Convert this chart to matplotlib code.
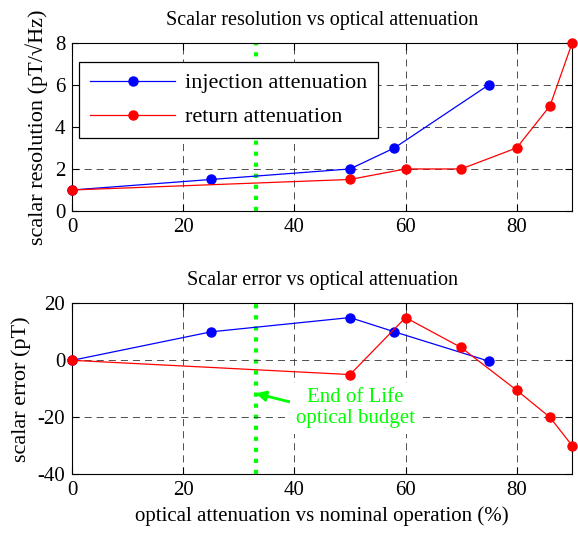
import numpy as np
import matplotlib
matplotlib.use("Agg")
import matplotlib.pyplot as plt

plt.rcParams['font.family'] = ['Liberation Serif', 'DejaVu Serif']
plt.rcParams['axes.unicode_minus'] = False

# injection attenuation
inj_x = [0, 25, 50, 58, 75]
inj_res = [1, 1.5, 2, 3, 6]
inj_err = [0, 10, 15, 10, -0.3]

# return attenuation
ret_x = [0, 50, 60, 70, 80, 86, 90]
ret_res = [1, 1.5, 2, 2, 3, 5, 8]
ret_err = [0, -5, 15, 4.5, -10.5, -20, -30]

eol_x = 33

fs = 15

fig = plt.figure(figsize=(5.78, 5.36), dpi=100)
ax1 = fig.add_axes([0.125, 0.6063, 0.865, 0.314])
ax2 = fig.add_axes([0.125, 0.1151, 0.865, 0.319])

for ax in (ax1, ax2):
    ax.grid(True, color='#333333', linestyle=(0, (8.5, 6)), linewidth=0.6)
    ax.tick_params(direction='in', top=True, right=True, labelsize=fs, length=5, pad=5)
    ax.set_xlim(0, 90)
    ax.set_xticks([0, 20, 40, 60, 80])
    ax.axvline(eol_x, color='#00ff00', linestyle=':', linewidth=3, zorder=1)

ax1.plot(inj_x, inj_res, '-o', color='#0000ff', lw=0.9, ms=6.5, clip_on=False,
         zorder=3, label='injection attenuation')
ax1.plot(ret_x, ret_res, '-o', color='#ff0000', lw=0.9, ms=6.5, clip_on=False,
         zorder=3, label='return attenuation')
ax1.set_ylim(0, 8)
ax1.set_yticks([0, 2, 4, 6, 8])
ax1.set_title('Scalar resolution vs optical attenuation', fontsize=14.5, pad=13)
ax1.set_ylabel('scalar resolution (pT/\u221aHz)', fontsize=16, labelpad=5)
leg = ax1.legend(loc='upper left', bbox_to_anchor=(0.014, 0.887), fontsize=16,
                 fancybox=False, framealpha=1, edgecolor='black', handlelength=3.8,
                 handletextpad=0.45, borderpad=0.5, labelspacing=0.6,
                 borderaxespad=0)
leg.get_frame().set_linewidth(0.9)
leg.set_zorder(5)

ax2.plot(inj_x, inj_err, '-o', color='#0000ff', lw=0.9, ms=6.5, clip_on=False, zorder=3)
ax2.plot(ret_x, ret_err, '-o', color='#ff0000', lw=0.9, ms=6.5, clip_on=False, zorder=3)
ax2.set_ylim(-40, 20)
ax2.set_yticks([-40, -20, 0, 20])
ax2.set_title('Scalar error vs optical attenuation', fontsize=14.5, pad=13)
ax2.set_ylabel('scalar error (pT)', fontsize=16, labelpad=5)
ax2.set_xlabel('optical attenuation vs nominal operation (%)', fontsize=fs)
ax2.annotate('End of Life\noptical budget', xy=(eol_x, -11.6), xytext=(51, -16.8),
             color='#00ff00', fontsize=fs, ha='center', va='center',
             linespacing=1.1, zorder=4,
             bbox=dict(facecolor='white', edgecolor='none', pad=4),
             arrowprops=dict(arrowstyle='-|>', color='#00ff00', lw=2,
                             shrinkA=0, shrinkB=0, mutation_scale=15,
                             relpos=(0, 0.62)))

fig.savefig('out.png', dpi=100)
